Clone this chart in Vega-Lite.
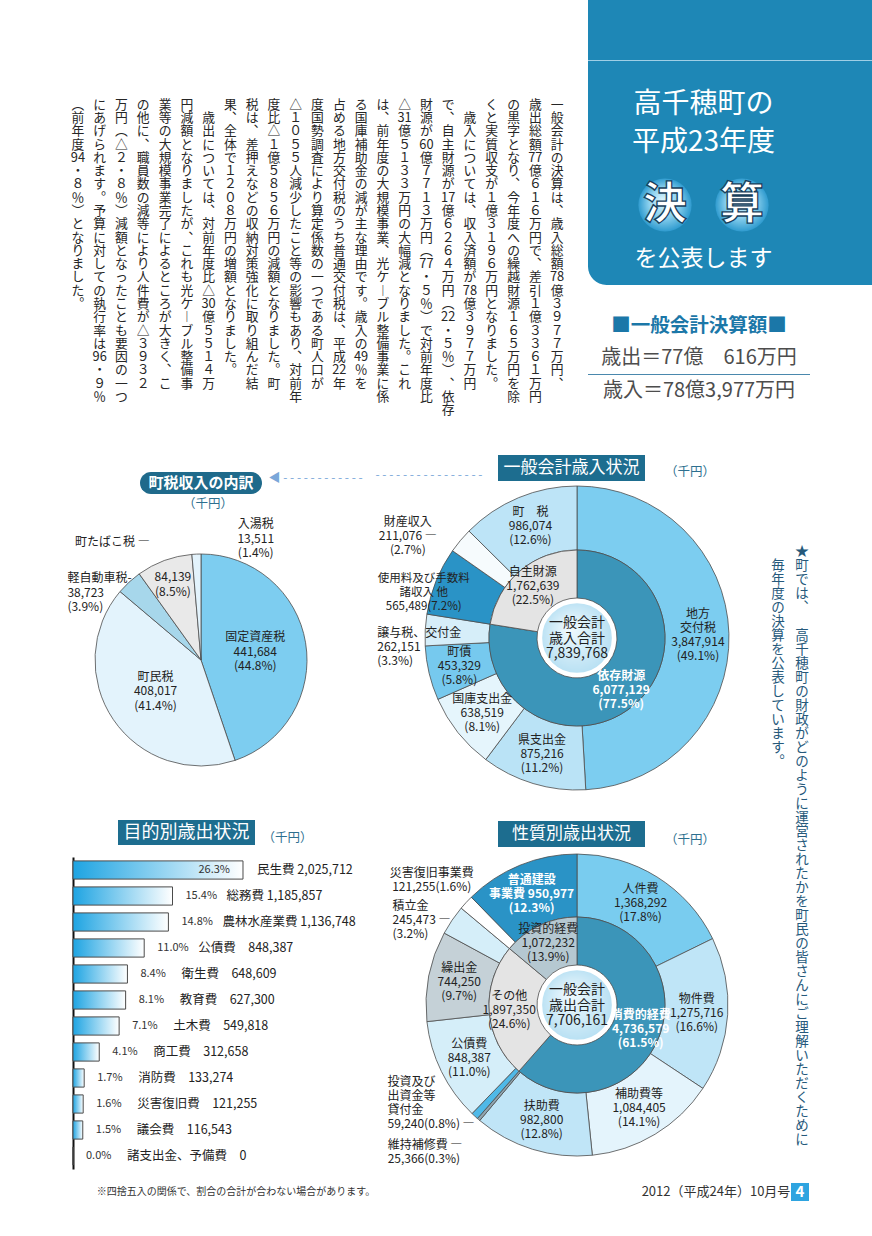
{
  "$schema": "https://vega.github.io/schema/vega-lite/v6.json",
  "padding": 0,
  "background": "#ffffff",
  "spacing": 0,
  "bounds": "full",
  "config": {"view": {"stroke": null}, "concat": {"spacing": 0}, "font": "Noto Sans CJK JP"},
  "resolve": {"scale": {"color": "independent", "theta": "independent"}},
  "datasets": {
    "body": [
      {"col": 1, "t": ["一","般","会","計","の","決","算","は","︑","歳","入","総","額","78","億","３","９","７","７","万","円","︑"]},
      {"col": 2, "t": ["歳","出","総","額","77","億","６","１","６","万","円","で","︑","差","引","１","億","３","３","６","１","万","円"]},
      {"col": 3, "t": ["の","黒","字","と","な","り","︑","今","年","度","へ","の","繰","越","財","源","１","６","５","万","円","を","除"]},
      {"col": 4, "t": ["く","と","実","質","収","支","が","１","億","３","１","９","６","万","円","と","な","り","ま","し","た","︒"]},
      {"col": 5, "t": ["　","歳","入","に","つ","い","て","は","︑","収","入","済","額","が","78","億","３","９","７","７","万","円"]},
      {"col": 6, "t": ["で","︑","自","主","財","源","が","17","億","６","２","６","４","万","円","︵","22","・","５","％","︶","︑","依","存"]},
      {"col": 7, "t": ["財","源","が","60","億","７","７","１","３","万","円","︵","77","・","５","％","︶","で","対","前","年","度","比"]},
      {"col": 8, "t": ["△","31","億","５","１","３","３","万","円","の","大","幅","減","と","な","り","ま","し","た","︒","こ","れ"]},
      {"col": 9, "t": ["は","︑","前","年","度","の","大","規","模","事","業","︑","光","ケ","︱","ブ","ル","整","備","事","業","に","係"]},
      {"col": 10, "t": ["る","国","庫","補","助","金","の","減","が","主","な","理","由","で","す","︒","歳","入","の","49","％","を"]},
      {"col": 11, "t": ["占","め","る","地","方","交","付","税","の","う","ち","普","通","交","付","税","は","︑","平","成","22","年"]},
      {"col": 12, "t": ["度","国","勢","調","査","に","よ","り","算","定","係","数","の","一","つ","で","あ","る","町","人","口","が"]},
      {"col": 13, "t": ["△","１","０","５","５","人","減","少","し","た","こ","と","等","の","影","響","も","あ","り","︑","対","前","年"]},
      {"col": 14, "t": ["度","比","△","１","億","５","８","５","６","万","円","の","減","額","と","な","り","ま","し","た","︒","町"]},
      {"col": 15, "t": ["税","は","︑","差","押","え","な","ど","の","収","納","対","策","強","化","に","取","り","組","ん","だ","結"]},
      {"col": 16, "t": ["果","︑","全","体","で","１","２","０","８","万","円","の","増","額","と","な","り","ま","し","た","︒"]},
      {"col": 17, "t": ["　","歳","出","に","つ","い","て","は","︑","対","前","年","度","比","△","30","億","５","５","１","４","万"]},
      {"col": 18, "t": ["円","減","額","と","な","り","ま","し","た","が","︑","こ","れ","も","光","ケ","︱","ブ","ル","整","備","事"]},
      {"col": 19, "t": ["業","等","の","大","規","模","事","業","完","了","に","よ","る","と","こ","ろ","が","大","き","く","︑","こ"]},
      {"col": 20, "t": ["の","他","に","︑","職","員","数","の","減","等","に","よ","り","人","件","費","が","△","３","９","３","２"]},
      {"col": 21, "t": ["万","円","︵","△","２","・","８","％","︶","減","額","と","な","っ","た","こ","と","も","要","因","の","一","つ"]},
      {"col": 22, "t": ["に","あ","げ","ら","れ","ま","す","︒","予","算","に","対","し","て","の","執","行","率","は","96","・","９","％"]},
      {"col": 23, "t": ["︵","前","年","度","94","・","８","％","︶","と","な","り","ま","し","た","︒"]}
    ],
    "note": [
      {"col": 1, "t": ["★","町","で","は","︑","　","高","千","穂","町","の","財","政","が","ど","の","よ","う","に","運","営","さ","れ","た","か","を","町","民","の","皆","さ","ん","に","ご","理","解","い","た","だ","く","た","め","に"]},
      {"col": 2, "t": ["　","毎","年","度","の","決","算","を","公","表","し","て","い","ま","す","︒"]}
    ],
    "tax": [
      {"i": 0, "name": "固定資産税", "value": 441684, "pct": 0.448},
      {"i": 1, "name": "町民税", "value": 408017, "pct": 0.414},
      {"i": 2, "name": "軽自動車税", "value": 38723, "pct": 0.039},
      {"i": 3, "name": "町たばこ税", "value": 84139, "pct": 0.085},
      {"i": 4, "name": "入湯税", "value": 13511, "pct": 0.014}
    ],
    "rev_outer": [
      {"i": 0, "name": "地方\n交付税", "value": 3847914, "pct": 0.491},
      {"i": 1, "name": "県支出金", "value": 875216, "pct": 0.112},
      {"i": 2, "name": "国庫支出金", "value": 638519, "pct": 0.081},
      {"i": 3, "name": "町債", "value": 453329, "pct": 0.058},
      {"i": 4, "name": "譲与税、交付金", "value": 262151, "pct": 0.033},
      {"i": 5, "name": "使用料及び手数料\n諸収入 他", "value": 565489, "pct": 0.072},
      {"i": 6, "name": "財産収入", "value": 211076, "pct": 0.027},
      {"i": 7, "name": "町　税", "value": 986074, "pct": 0.126}
    ],
    "rev_inner": [
      {"i": 0, "name": "依存財源", "value": 6077129, "pct": 0.775},
      {"i": 1, "name": "自主財源", "value": 1762639, "pct": 0.225}
    ],
    "purpose": [
      {"name": "民生費", "value": 2025712, "pct": 0.263},
      {"name": "総務費", "value": 1185857, "pct": 0.154},
      {"name": "農林水産業費", "value": 1136748, "pct": 0.148},
      {"name": "公債費", "value": 848387, "pct": 0.110},
      {"name": "衛生費", "value": 648609, "pct": 0.084},
      {"name": "教育費", "value": 627300, "pct": 0.081},
      {"name": "土木費", "value": 549818, "pct": 0.071},
      {"name": "商工費", "value": 312658, "pct": 0.041},
      {"name": "消防費", "value": 133274, "pct": 0.017},
      {"name": "災害復旧費", "value": 121255, "pct": 0.016},
      {"name": "議会費", "value": 116543, "pct": 0.015},
      {"name": "諸支出金、予備費", "value": 0, "pct": 0.0}
    ],
    "exp_outer": [
      {"i": 0, "name": "人件費", "value": 1368292, "pct": 0.178},
      {"i": 1, "name": "物件費", "value": 1275716, "pct": 0.166},
      {"i": 2, "name": "補助費等", "value": 1084405, "pct": 0.141},
      {"i": 3, "name": "扶助費", "value": 982800, "pct": 0.128},
      {"i": 4, "name": "維持補修費", "value": 25366, "pct": 0.003},
      {"i": 5, "name": "投資及び\n出資金等\n貸付金", "value": 59240, "pct": 0.008},
      {"i": 6, "name": "公債費", "value": 848387, "pct": 0.110},
      {"i": 7, "name": "繰出金", "value": 744250, "pct": 0.097},
      {"i": 8, "name": "積立金", "value": 245473, "pct": 0.032},
      {"i": 9, "name": "災害復旧事業費", "value": 121255, "pct": 0.016},
      {"i": 10, "name": "普通建設事業費", "value": 950977, "pct": 0.123}
    ],
    "exp_inner": [
      {"i": 0, "name": "消費的経費", "value": 4736579, "pct": 0.615},
      {"i": 1, "name": "その他", "value": 1897350, "pct": 0.246},
      {"i": 2, "name": "投資的経費", "value": 1072232, "pct": 0.139}
    ]
  },
  "vconcat": [
    {
      "hconcat": [
        {"width": 47, "height": 1, "data": {"values": []}, "mark": "point"},
        {
          "vconcat": [
            {"width": 501, "height": 98, "data": {"values": []}, "mark": "point"},
            {
              "width": 501, "height": 319,
              "data": {"name": "body"},
              "transform": [
                {"flatten": ["t"], "as": ["ch"]},
                {"window": [{"op": "row_number", "as": "r"}], "groupby": ["col"]}
              ],
              "mark": {"type": "text", "baseline": "middle", "align": "center", "fontSize": 12.8, "color": "#262626"},
              "encoding": {
                "x": {"field": "col", "type": "ordinal", "scale": {"type": "point", "padding": 0.5, "reverse": true}, "axis": null},
                "y": {"field": "r", "type": "ordinal", "scale": {"type": "point", "padding": 0.5}, "axis": null},
                "text": {"field": "ch", "type": "nominal"}
              }
            }
          ],
          "spacing": 0, "bounds": "flush"
        },
        {
          "vconcat": [
            {"width": 284, "height": 60, "data": {"values": [{}]}, "mark": {"type": "rect", "color": "#1e87b6"}},
            {"width": 284, "height": 1, "data": {"values": [{}]}, "mark": {"type": "rect", "color": "#9fcfe6"}},
            {
              "hconcat": [
                {
                  "vconcat": [
                    {"width": 231, "height": 26, "data": {"values": [{}]}, "mark": {"type": "rect", "color": "#1e87b6"}},
                    {"width": 231, "height": 36, "data": {"values": [{"t": "高千穂町の"}]}, "layer": [
                      {"mark": {"type": "rect", "color": "#1e87b6"}},
                      {"mark": {"type": "text", "color": "#ffffff", "fontSize": 28}, "encoding": {"text": {"field": "t", "type": "nominal"}}}
                    ]},
                    {"width": 231, "height": 39, "data": {"values": [{"t": "平成23年度"}]}, "layer": [
                      {"mark": {"type": "rect", "color": "#1e87b6"}},
                      {"mark": {"type": "text", "color": "#ffffff", "fontSize": 28}, "encoding": {"text": {"field": "t", "type": "nominal"}}}
                    ]},
                    {"width": 231, "height": 86, "layer": [
                      {"data": {"values": [{}]}, "mark": {"type": "rect", "color": "#1e87b6"}},
                      {"data": {"values": [{"c": "決"}, {"c": "算"}]},
                       "encoding": {"x": {"field": "c", "type": "nominal", "sort": null, "scale": {"type": "point", "padding": 1.363}, "axis": null}},
                       "layer": [
                         {"mark": {"type": "point", "shape": "circle", "filled": true, "size": 2830, "opacity": 1, "strokeWidth": 0,
                           "fill": {"gradient": "radial", "x1": 0.45, "y1": 0.4, "r1": 0, "x2": 0.5, "y2": 0.5, "r2": 0.5,
                             "stops": [{"offset": 0, "color": "#daf4fd"}, {"offset": 0.55, "color": "#8ed2ef"}, {"offset": 1, "color": "#2f9bcf"}]}}},
                         {"mark": {"type": "text", "fontSize": 44, "fontWeight": "bold", "color": "#ffffff", "stroke": "#173f5c", "strokeWidth": 1.3, "dy": 1},
                          "encoding": {"text": {"field": "c", "type": "nominal"}}}
                       ]}
                    ]},
                    {"width": 231, "height": 37, "data": {"values": [{"t": "を公表します"}]}, "layer": [
                      {"mark": {"type": "rect", "color": "#1e87b6", "cornerRadiusBottomLeft": 33}},
                      {"mark": {"type": "text", "color": "#ffffff", "fontSize": 23, "dy": -8}, "encoding": {"text": {"field": "t", "type": "nominal"}}}
                    ]}
                  ],
                  "spacing": 0, "bounds": "flush"
                },
                {"width": 53, "height": 224, "data": {"values": [{}]}, "mark": {"type": "rect", "color": "#1e87b6"}}
              ],
              "spacing": 0, "bounds": "full"
            },
            {"width": 222, "height": 25, "data": {"values": []}, "mark": "point"},
            {"width": 222, "height": 32, "data": {"values": [{"t": "■一般会計決算額■"}]}, "mark": {"type": "text", "fontSize": 19.5, "fontWeight": "bold", "color": "#1b77a8"}, "encoding": {"text": {"field": "t", "type": "nominal"}}},
            {"width": 222, "height": 32, "data": {"values": [{"t": "歳出＝77億　616万円"}]}, "mark": {"type": "text", "fontSize": 20, "color": "#4d4d4d"}, "encoding": {"text": {"field": "t", "type": "nominal"}}},
            {"width": 222, "height": 1, "data": {"values": [{}]}, "mark": {"type": "rect", "color": "#4a88ad"}},
            {"width": 222, "height": 32, "data": {"values": [{"t": "歳入＝78億3,977万円"}]}, "mark": {"type": "text", "fontSize": 20, "color": "#4d4d4d"}, "encoding": {"text": {"field": "t", "type": "nominal"}}},
            {"width": 222, "height": 13, "data": {"values": []}, "mark": "point"}
          ],
          "spacing": 0, "bounds": "full"
        }
      ],
      "spacing": 20, "bounds": "full"
    },
    {
      "hconcat": [
        {"width": 60, "height": 1, "data": {"values": []}, "mark": "point"},
        {
          "vconcat": [
            {"width": 10, "height": 52, "data": {"values": []}, "mark": "point"},
            {"hconcat": [
              {"width": 80, "height": 22, "data": {"values": []}, "mark": "point"},
              {"width": 122, "height": 22, "data": {"values": [{"t": "町税収入の内訳"}]}, "layer": [
                {"mark": {"type": "rect", "color": "#1f6a8b", "cornerRadius": 11}},
                {"mark": {"type": "text", "color": "#ffffff", "fontSize": 15, "fontWeight": "bold"}, "encoding": {"text": {"field": "t", "type": "nominal"}}}
              ]},
              {"width": 6, "height": 22, "data": {"values": []}, "mark": "point"},
              {"width": 105, "height": 22, "data": {"values": [{"t": "◀ - - - - - - - - - - - -"}]}, "mark": {"type": "text", "color": "#7aa7d9", "fontSize": 12, "align": "left", "dx": -52, "dy": -5}, "encoding": {"text": {"field": "t", "type": "nominal"}}}
            ], "spacing": 0, "bounds": "flush"},
            {"hconcat": [
              {"width": 123, "height": 18, "data": {"values": []}, "mark": "point"},
              {"width": 50, "height": 18, "data": {"values": [{"t": "（千円）"}]}, "mark": {"type": "text", "fontSize": 12.5, "color": "#2d6f8f", "dy": 1}, "encoding": {"text": {"field": "t", "type": "nominal"}}}
            ], "spacing": 0, "bounds": "flush"},
            {"hconcat": [
              {"width": 35, "height": 296, "data": {"values": []}, "mark": "point"},
              {
                "width": 212, "height": 296,
                "data": {"name": "tax"},
                "encoding": {
                  "theta": {"field": "value", "type": "quantitative", "stack": true},
                  "order": {"field": "i", "type": "quantitative"}
                },
                "layer": [
                  {"mark": {"type": "arc", "radius": 106, "stroke": "#4d4d4d", "strokeWidth": 0.8},
                   "encoding": {"color": {"field": "name", "type": "nominal", "legend": null,
                     "scale": {"domain": ["固定資産税", "町民税", "軽自動車税", "町たばこ税", "入湯税"], "range": ["#7dcdf0", "#e3f3fc", "#a7d7eb", "#e9e9e9", "#e3f3fc"]}}}},
                  {"mark": {"type": "text", "radius": 55, "dy": -14, "fontSize": 12, "lineHeight": 14.5, "lineBreak": "\n", "color": "#222222",
                    "text": {"expr": "indexof(['固定資産税','町民税'], datum.name) >= 0 ? datum.name + '\\n' + format(datum.value, ',') + '\\n(' + format(datum.pct, '.1%') + ')' : ''"}}},
                  {"mark": {"type": "text", "radius": 81, "dy": -7, "fontSize": 12, "lineHeight": 14.5, "lineBreak": "\n", "color": "#222222",
                    "text": {"expr": "datum.name == '町たばこ税' ? format(datum.value, ',') + '\\n(' + format(datum.pct, '.1%') + ')' : ''"}}},
                  {"mark": {"type": "text", "radius": {"expr": "datum.name == '町たばこ税' ? 126 : 0"}, "dx": -45, "fontSize": 12, "color": "#222222",
                    "text": {"expr": "datum.name == '町たばこ税' ? datum.name + ' ―' : ''"}}},
                  {"mark": {"type": "text", "radius": {"expr": "datum.name == '軽自動車税' ? 110 : 0"}, "align": "left", "dx": -59, "dy": -1, "fontSize": 12, "lineHeight": 14.5, "lineBreak": "\n", "color": "#222222",
                    "text": {"expr": "datum.name == '軽自動車税' ? datum.name + '-\\n' + format(datum.value, ',') + '\\n(' + format(datum.pct, '.1%') + ')' : ''"}}},
                  {"mark": {"type": "text", "radius": {"expr": "datum.name == '入湯税' ? 122 : 0"}, "dx": 60, "dy": -14, "fontSize": 12, "lineHeight": 14.5, "lineBreak": "\n", "color": "#222222",
                    "text": {"expr": "datum.name == '入湯税' ? datum.name + '\\n' + format(datum.value, ',') + '\\n(' + format(datum.pct, '.1%') + ')' : ''"}}}
                ]
              }
            ], "spacing": 0, "bounds": "flush"},
            {"width": 10, "height": 12, "data": {"values": []}, "mark": "point"},
            {"hconcat": [
              {"width": 58, "height": 25, "data": {"values": []}, "mark": "point"},
              {"width": 137, "height": 25, "data": {"values": [{"t": "目的別歳出状況"}]}, "layer": [
                {"mark": {"type": "rect", "color": "#1d6d8f"}},
                {"mark": {"type": "text", "color": "#ffffff", "fontSize": 18}, "encoding": {"text": {"field": "t", "type": "nominal"}}}
              ]},
              {"width": 10, "height": 25, "data": {"values": []}, "mark": "point"},
              {"width": 45, "height": 25, "data": {"values": [{"t": "（千円）"}]}, "mark": {"type": "text", "fontSize": 12.5, "color": "#2d6f8f", "dy": 5}, "encoding": {"text": {"field": "t", "type": "nominal"}}}
            ], "spacing": 0, "bounds": "flush"},
            {"width": 10, "height": 12, "data": {"values": []}, "mark": "point"},
            {"hconcat": [
              {"width": 13, "height": 312, "data": {"values": []}, "mark": "point"},
              {
                "width": 300, "height": 312,
                "data": {"name": "purpose"},
                "encoding": {
                  "y": {"field": "name", "type": "nominal", "sort": null,
                    "scale": {"domain": ["民生費", "総務費", "農林水産業費", "公債費", "衛生費", "教育費", "土木費", "商工費", "消防費", "災害復旧費", "議会費", "諸支出金、予備費"], "paddingInner": 0.3, "paddingOuter": 0.15},
                    "axis": {"domain": true, "domainColor": "#111111", "domainWidth": 2, "labels": false, "ticks": false, "title": null, "grid": false}},
                  "x": {"field": "value", "type": "quantitative", "scale": {"domain": [0, 3575000], "nice": false}, "axis": null}
                },
                "layer": [
                  {"mark": {"type": "bar", "stroke": "#4a4a4a", "strokeWidth": 1,
                    "fill": {"gradient": "linear", "x1": 0, "y1": 0, "x2": 1, "y2": 0, "stops": [{"offset": 0, "color": "#1ea4e2"}, {"offset": 1, "color": "#ffffff"}]}}},
                  {"mark": {"type": "text", "align": "left", "dx": 13, "fontSize": 11, "color": "#333333",
                    "text": {"expr": "datum.name == '民生費' ? '' : format(datum.pct, '.1%')"}}},
                  {"mark": {"type": "text", "align": "right", "dx": -13, "fontSize": 11, "color": "#333333",
                    "text": {"expr": "datum.name == '民生費' ? format(datum.pct, '.1%') : ''"}}},
                  {"mark": {"type": "text", "align": "left", "dx": 54, "fontSize": 12.5, "color": "#222222",
                    "text": {"expr": "datum.name == '民生費' ? '' : datum.name + (datum.value >= 1000000 ? ' ' : '　') + format(datum.value, ',')"}}},
                  {"mark": {"type": "text", "align": "left", "dx": 14, "fontSize": 12.5, "color": "#222222",
                    "text": {"expr": "datum.name == '民生費' ? datum.name + ' ' + format(datum.value, ',') : ''"}}}
                ]
              }
            ], "spacing": 0, "bounds": "flush"}
          ],
          "spacing": 0, "bounds": "full",
          "resolve": {"scale": {"color": "independent", "theta": "independent"}}
        },
        {"width": 2, "height": 1, "data": {"values": []}, "mark": "point"},
        {
          "vconcat": [
            {"width": 10, "height": 35, "data": {"values": []}, "mark": "point"},
            {"hconcat": [
              {"width": 123, "height": 26, "data": {"values": [{"t": "- - - - - - - - - - - - - - - -"}]}, "mark": {"type": "text", "color": "#7aa7d9", "fontSize": 12, "align": "left", "dx": -61, "dy": 7}, "encoding": {"text": {"field": "t", "type": "nominal"}}},
              {"width": 147, "height": 26, "data": {"values": [{"t": "一般会計歳入状況"}]}, "layer": [
                {"mark": {"type": "rect", "color": "#1d6d8f"}},
                {"mark": {"type": "text", "color": "#ffffff", "fontSize": 17}, "encoding": {"text": {"field": "t", "type": "nominal"}}}
              ]},
              {"width": 23, "height": 26, "data": {"values": []}, "mark": "point"},
              {"width": 44, "height": 26, "data": {"values": [{"t": "（千円）"}]}, "mark": {"type": "text", "fontSize": 12.5, "color": "#2d6f8f", "dy": 4}, "encoding": {"text": {"field": "t", "type": "nominal"}}}
            ], "spacing": 0, "bounds": "flush"},
            {"hconcat": [
              {"width": 45, "height": 314, "data": {"values": []}, "mark": "point"},
              {
                "width": 314, "height": 314,
                "layer": [
                  {"data": {"name": "rev_outer"}, "mark": {"type": "arc", "radius": 152, "radius2": 88, "stroke": "#4d4d4d", "strokeWidth": 0.8},
                   "encoding": {"theta": {"field": "value", "type": "quantitative", "stack": true}, "order": {"field": "i", "type": "quantitative"},
                     "color": {"field": "name", "type": "nominal", "legend": null, "scale": {
                       "domain": ["地方\n交付税", "県支出金", "国庫支出金", "町債", "譲与税、交付金", "使用料及び手数料\n諸収入 他", "財産収入", "町　税", "依存財源", "自主財源"],
                       "range": ["#7ccdf0", "#bae3f6", "#e5f5fc", "#76c9ee", "#d6eef9", "#2a93c6", "#f6fbfd", "#bde4f7", "#3b95b9", "#e4e4e4"]}}}},
                  {"data": {"name": "rev_inner"}, "mark": {"type": "arc", "radius": 88, "radius2": 40, "stroke": "#4d4d4d", "strokeWidth": 0.8},
                   "encoding": {"theta": {"field": "value", "type": "quantitative", "stack": true}, "order": {"field": "i", "type": "quantitative"},
                     "color": {"field": "name", "type": "nominal", "legend": null, "scale": {
                       "domain": ["地方\n交付税", "県支出金", "国庫支出金", "町債", "譲与税、交付金", "使用料及び手数料\n諸収入 他", "財産収入", "町　税", "依存財源", "自主財源"],
                       "range": ["#7ccdf0", "#bae3f6", "#e5f5fc", "#76c9ee", "#d6eef9", "#2a93c6", "#f6fbfd", "#bde4f7", "#3b95b9", "#e4e4e4"]}}}},
                  {"data": {"values": [{}]}, "mark": {"type": "point", "shape": "circle", "filled": true, "size": 5281, "opacity": 1, "stroke": "#ffffff", "strokeWidth": 3,
                    "fill": {"gradient": "radial", "x1": 0.4, "y1": 0.35, "r1": 0, "x2": 0.5, "y2": 0.5, "r2": 0.55, "stops": [{"offset": 0, "color": "#f2fafe"}, {"offset": 1, "color": "#b3def2"}]}}},
                  {"data": {"values": [{"name": "一般会計\n歳入合計", "total": 7839768}]},
                   "mark": {"type": "text", "dy": -15, "fontSize": 14, "lineHeight": 15.5, "lineBreak": "\n", "color": "#1e1e1e", "text": {"expr": "datum.name + '\\n' + format(datum.total, ',')"}}},
                  {"data": {"name": "rev_inner"},
                   "mark": {"type": "text", "radius": 68, "dy": -14, "fontSize": 12, "lineHeight": 14, "lineBreak": "\n",
                     "fontWeight": {"expr": "datum.name == '依存財源' ? 'bold' : 'normal'"},
                     "text": {"expr": "datum.name + '\\n' + format(datum.value, ',') + '\\n(' + format(datum.pct, '.1%') + ')'"}},
                   "encoding": {"theta": {"field": "value", "type": "quantitative", "stack": true}, "order": {"field": "i", "type": "quantitative"},
                     "color": {"condition": {"test": "datum.name == '依存財源'", "value": "#ffffff"}, "value": "#222222"}}},
                  {"data": {"name": "rev_outer"},
                   "mark": {"type": "text", "radius": 121, "dy": {"expr": "indexof(datum.name, '地方') == 0 ? -21 : -14"}, "fontSize": 12, "lineHeight": 14, "lineBreak": "\n", "color": "#222222",
                     "text": {"expr": "datum.name == '財産収入' || datum.name == '譲与税、交付金' || indexof(datum.name, '使用料') >= 0 ? '' : datum.name + '\\n' + format(datum.value, ',') + '\\n(' + format(datum.pct, '.1%') + ')'"}},
                   "encoding": {"theta": {"field": "value", "type": "quantitative", "stack": true}, "order": {"field": "i", "type": "quantitative"}}},
                  {"data": {"name": "rev_outer"},
                   "mark": {"type": "text", "radius": {"expr": "datum.name == '財産収入' ? 197 : 0"}, "dx": -18, "dy": 10, "fontSize": 12, "lineHeight": 14, "lineBreak": "\n", "color": "#222222",
                     "text": {"expr": "datum.name == '財産収入' ? datum.name + '\\n' + format(datum.value, ',') + ' ―\\n(' + format(datum.pct, '.1%') + ')' : ''"}},
                   "encoding": {"theta": {"field": "value", "type": "quantitative", "stack": true}, "order": {"field": "i", "type": "quantitative"}}},
                  {"data": {"name": "rev_outer"},
                   "mark": {"type": "text", "radius": {"expr": "indexof(datum.name, '使用料') >= 0 ? 160 : 0"}, "dx": -5, "dy": 1, "fontSize": 11.5, "lineHeight": 14, "lineBreak": "\n", "color": "#222222",
                     "text": {"expr": "indexof(datum.name, '使用料') >= 0 ? datum.name + '\\n' + format(datum.value, ',') + '(' + format(datum.pct, '.1%') + ')' : ''"}},
                   "encoding": {"theta": {"field": "value", "type": "quantitative", "stack": true}, "order": {"field": "i", "type": "quantitative"}}},
                  {"data": {"name": "rev_outer"},
                   "mark": {"type": "text", "radius": {"expr": "datum.name == '譲与税、交付金' ? 200 : 0"}, "align": "left", "dy": 6, "fontSize": 12, "lineHeight": 14, "lineBreak": "\n", "color": "#222222",
                     "text": {"expr": "datum.name == '譲与税、交付金' ? datum.name + '\\n' + format(datum.value, ',') + '\\n(' + format(datum.pct, '.1%') + ')' : ''"}},
                   "encoding": {"theta": {"field": "value", "type": "quantitative", "stack": true}, "order": {"field": "i", "type": "quantitative"}}}
                ]
              }
            ], "spacing": 0, "bounds": "flush"},
            {"width": 10, "height": 26, "data": {"values": []}, "mark": "point"},
            {"hconcat": [
              {"width": 123, "height": 26, "data": {"values": []}, "mark": "point"},
              {"width": 147, "height": 26, "data": {"values": [{"t": "性質別歳出状況"}]}, "layer": [
                {"mark": {"type": "rect", "color": "#1d6d8f"}},
                {"mark": {"type": "text", "color": "#ffffff", "fontSize": 17}, "encoding": {"text": {"field": "t", "type": "nominal"}}}
              ]},
              {"width": 23, "height": 26, "data": {"values": []}, "mark": "point"},
              {"width": 44, "height": 26, "data": {"values": [{"t": "（千円）"}]}, "mark": {"type": "text", "fontSize": 12.5, "color": "#2d6f8f", "dy": 6}, "encoding": {"text": {"field": "t", "type": "nominal"}}}
            ], "spacing": 0, "bounds": "flush"},
            {"hconcat": [
              {"width": 44, "height": 316, "data": {"values": []}, "mark": "point"},
              {
                "width": 316, "height": 316,
                "layer": [
                  {"data": {"name": "exp_outer"}, "mark": {"type": "arc", "radius": 151, "radius2": 88, "stroke": "#4d4d4d", "strokeWidth": 0.8},
                   "encoding": {"theta": {"field": "value", "type": "quantitative", "stack": true}, "order": {"field": "i", "type": "quantitative"},
                     "color": {"field": "name", "type": "nominal", "legend": null, "scale": {
                       "domain": ["人件費", "物件費", "補助費等", "扶助費", "維持補修費", "投資及び\n出資金等\n貸付金", "公債費", "繰出金", "積立金", "災害復旧事業費", "普通建設事業費", "消費的経費", "その他", "投資的経費"],
                       "range": ["#79ccef", "#bfe5f7", "#e4f4fc", "#c0e5f7", "#8fa5b0", "#4fb9e8", "#d5eef9", "#c5d1d7", "#d5eef9", "#ffffff", "#2a93c6", "#3b95b9", "#e4e4e4", "#b5c8d1"]}}}},
                  {"data": {"name": "exp_inner"}, "mark": {"type": "arc", "radius": 88, "radius2": 40, "stroke": "#4d4d4d", "strokeWidth": 0.8},
                   "encoding": {"theta": {"field": "value", "type": "quantitative", "stack": true}, "order": {"field": "i", "type": "quantitative"},
                     "color": {"field": "name", "type": "nominal", "legend": null, "scale": {
                       "domain": ["人件費", "物件費", "補助費等", "扶助費", "維持補修費", "投資及び\n出資金等\n貸付金", "公債費", "繰出金", "積立金", "災害復旧事業費", "普通建設事業費", "消費的経費", "その他", "投資的経費"],
                       "range": ["#79ccef", "#bfe5f7", "#e4f4fc", "#c0e5f7", "#8fa5b0", "#4fb9e8", "#d5eef9", "#c5d1d7", "#d5eef9", "#ffffff", "#2a93c6", "#3b95b9", "#e4e4e4", "#b5c8d1"]}}}},
                  {"data": {"values": [{}]}, "mark": {"type": "point", "shape": "circle", "filled": true, "size": 5281, "opacity": 1, "stroke": "#ffffff", "strokeWidth": 3,
                    "fill": {"gradient": "radial", "x1": 0.4, "y1": 0.35, "r1": 0, "x2": 0.5, "y2": 0.5, "r2": 0.55, "stops": [{"offset": 0, "color": "#f2fafe"}, {"offset": 1, "color": "#b3def2"}]}}},
                  {"data": {"values": [{"name": "一般会計\n歳出合計", "total": 7706161}]},
                   "mark": {"type": "text", "dy": -15, "fontSize": 14, "lineHeight": 15.5, "lineBreak": "\n", "color": "#1e1e1e", "text": {"expr": "datum.name + '\\n' + format(datum.total, ',')"}}},
                  {"data": {"name": "exp_inner"},
                   "mark": {"type": "text", "radius": 68, "dy": -14, "fontSize": 12, "lineHeight": 14, "lineBreak": "\n",
                     "fontWeight": {"expr": "datum.name == '消費的経費' ? 'bold' : 'normal'"},
                     "text": {"expr": "datum.name + '\\n' + format(datum.value, ',') + '\\n(' + format(datum.pct, '.1%') + ')'"}},
                   "encoding": {"theta": {"field": "value", "type": "quantitative", "stack": true}, "order": {"field": "i", "type": "quantitative"},
                     "color": {"condition": {"test": "datum.name == '消費的経費'", "value": "#ffffff"}, "value": "#222222"}}},
                  {"data": {"name": "exp_outer"},
                   "mark": {"type": "text", "radius": 120, "dy": -14, "fontSize": 12, "lineHeight": 14, "lineBreak": "\n", "color": "#222222",
                     "text": {"expr": "indexof(['人件費','物件費','補助費等','扶助費','公債費','繰出金'], datum.name) >= 0 ? datum.name + '\\n' + format(datum.value, ',') + '\\n(' + format(datum.pct, '.1%') + ')' : ''"}},
                   "encoding": {"theta": {"field": "value", "type": "quantitative", "stack": true}, "order": {"field": "i", "type": "quantitative"}}},
                  {"data": {"name": "exp_outer"},
                   "mark": {"type": "text", "radius": 120, "dy": -14, "fontSize": 12, "lineHeight": 14, "lineBreak": "\n", "color": "#ffffff", "fontWeight": "bold",
                     "text": {"expr": "datum.name == '普通建設事業費' ? '普通建設\\n事業費 ' + format(datum.value, ',') + '\\n(' + format(datum.pct, '.1%') + ')' : ''"}},
                   "encoding": {"theta": {"field": "value", "type": "quantitative", "stack": true}, "order": {"field": "i", "type": "quantitative"}}},
                  {"data": {"name": "exp_outer"},
                   "mark": {"type": "text", "radius": {"expr": "datum.name == '災害復旧事業費' ? 191 : 0"}, "dx": -5, "dy": -2, "fontSize": 12, "lineHeight": 14, "lineBreak": "\n", "color": "#222222",
                     "text": {"expr": "datum.name == '災害復旧事業費' ? datum.name + '\\n' + format(datum.value, ',') + '(' + format(datum.pct, '.1%') + ')' : ''"}},
                   "encoding": {"theta": {"field": "value", "type": "quantitative", "stack": true}, "order": {"field": "i", "type": "quantitative"}}},
                  {"data": {"name": "exp_outer"},
                   "mark": {"type": "text", "radius": {"expr": "datum.name == '積立金' ? 200 : 0"}, "align": "left", "dx": -19, "dy": 13, "fontSize": 12, "lineHeight": 14, "lineBreak": "\n", "color": "#222222",
                     "text": {"expr": "datum.name == '積立金' ? datum.name + '\\n' + format(datum.value, ',') + ' ―\\n(' + format(datum.pct, '.1%') + ')' : ''"}},
                   "encoding": {"theta": {"field": "value", "type": "quantitative", "stack": true}, "order": {"field": "i", "type": "quantitative"}}},
                  {"data": {"name": "exp_outer"},
                   "mark": {"type": "text", "radius": {"expr": "indexof(datum.name, '投資及び') == 0 ? 200 : 0"}, "align": "left", "dx": -54, "dy": -70, "fontSize": 12, "lineHeight": 14, "lineBreak": "\n", "color": "#222222",
                     "text": {"expr": "indexof(datum.name, '投資及び') == 0 ? datum.name + '\\n' + format(datum.value, ',') + '(' + format(datum.pct, '.1%') + ') ―' : ''"}},
                   "encoding": {"theta": {"field": "value", "type": "quantitative", "stack": true}, "order": {"field": "i", "type": "quantitative"}}},
                  {"data": {"name": "exp_outer"},
                   "mark": {"type": "text", "radius": {"expr": "datum.name == '維持補修費' ? 200 : 0"}, "align": "left", "dx": -59, "dy": -12, "fontSize": 12, "lineHeight": 14, "lineBreak": "\n", "color": "#222222",
                     "text": {"expr": "datum.name == '維持補修費' ? datum.name + ' ―\\n' + format(datum.value, ',') + '(' + format(datum.pct, '.1%') + ')' : ''"}},
                   "encoding": {"theta": {"field": "value", "type": "quantitative", "stack": true}, "order": {"field": "i", "type": "quantitative"}}}
                ]
              }
            ], "spacing": 0, "bounds": "flush"}
          ],
          "spacing": 0, "bounds": "full",
          "resolve": {"scale": {"color": "independent", "theta": "independent"}}
        },
        {"width": 31, "height": 1, "data": {"values": []}, "mark": "point"},
        {
          "vconcat": [
            {"width": 48, "height": 125, "data": {"values": []}, "mark": "point"},
            {
              "width": 48, "height": 602,
              "data": {"name": "note"},
              "transform": [
                {"flatten": ["t"], "as": ["ch"]},
                {"window": [{"op": "row_number", "as": "r"}], "groupby": ["col"]}
              ],
              "mark": {"type": "text", "baseline": "middle", "align": "center", "fontSize": 13.5, "color": "#26597b"},
              "encoding": {
                "x": {"field": "col", "type": "ordinal", "scale": {"type": "point", "padding": 0.5, "reverse": true}, "axis": null},
                "y": {"field": "r", "type": "ordinal", "scale": {"type": "point", "padding": 0.5}, "axis": null},
                "text": {"field": "ch", "type": "nominal"}
              }
            }
          ],
          "spacing": 0, "bounds": "flush"
        }
      ],
      "spacing": 0, "bounds": "full",
      "resolve": {"scale": {"color": "independent", "theta": "independent"}}
    },
    {
      "hconcat": [
        {"width": 100, "height": 46, "data": {"values": []}, "mark": "point"},
        {"width": 272, "height": 46, "data": {"values": [{"t": "※四捨五入の関係で、割合の合計が合わない場合があります。"}]}, "mark": {"type": "text", "fontSize": 10, "color": "#333333"}, "encoding": {"text": {"field": "t", "type": "nominal"}}},
        {"width": 273, "height": 46, "data": {"values": []}, "mark": "point"},
        {"width": 142, "height": 46, "data": {"values": [{"t": "2012（平成24年）10月号"}]}, "mark": {"type": "text", "fontSize": 13, "color": "#333333"}, "encoding": {"text": {"field": "t", "type": "nominal"}}},
        {"width": 4, "height": 46, "data": {"values": []}, "mark": "point"},
        {"width": 18, "height": 46, "data": {"values": [{"t": "4"}]}, "layer": [
          {"mark": {"type": "point", "shape": "square", "size": 324, "filled": true, "opacity": 1, "color": "#2ea4e0"}},
          {"mark": {"type": "text", "color": "#ffffff", "fontSize": 15, "fontWeight": "bold"}, "encoding": {"text": {"field": "t", "type": "nominal"}}}
        ]}
      ],
      "spacing": 0, "bounds": "flush"
    }
  ]
}
